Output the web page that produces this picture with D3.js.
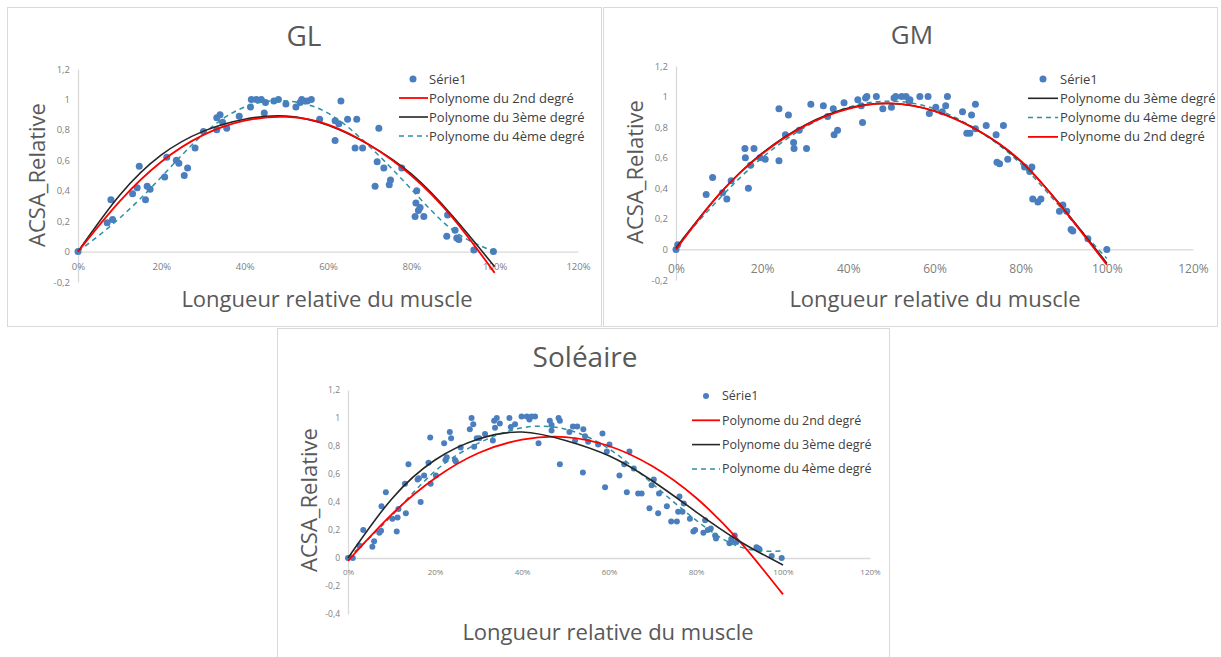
<!DOCTYPE html>
<html><head><meta charset="utf-8">
<script src="https://cdn.jsdelivr.net/npm/d3@7"></script>
<style>body{margin:0;background:#fff} svg{display:block} text{font-family:"Open Sans",sans-serif}</style>
</head><body><svg id="c" width="1221" height="657"></svg>
<script>
// ---------- data ----------
const xTicks = [0, 20, 40, 60, 80, 100, 120];
const yTicksTop = [-0.2, 0, 0.2, 0.4, 0.6, 0.8, 1, 1.2];
const yTicksSol = [-0.4, -0.2, 0, 0.2, 0.4, 0.6, 0.8, 1, 1.2];
const curveX = [0, 10, 20, 30, 40, 50, 60, 70, 80, 90, 100];

const glPoints = [[0,0],[7.0,0.19],[7.9,0.34],[8.3,0.21],[13.1,0.38],[14.2,0.42],[14.7,0.56],[16.2,0.34],[16.6,0.43],[17.3,0.41],[20.8,0.49],[21.3,0.62],[23.6,0.60],[24.2,0.58],[25.5,0.50],[26.3,0.55],[28.1,0.68],[30.1,0.79],[33.3,0.80],[33.3,0.88],[34.1,0.90],[34.7,0.85],[35.7,0.81],[38.7,0.89],[41.4,0.95],[41.6,1.0],[42.8,1.0],[44,1.0],[44.7,0.91],[45,0.98],[47,0.99],[48.1,1.0],[49.9,0.97],[52.3,0.95],[53.3,0.98],[53.7,1.0],[55,0.99],[56,1.0],[58,0.87],[61.7,0.86],[61.7,0.73],[62.6,0.84],[63.1,0.99],[64.7,0.87],[66.5,0.68],[66.9,0.87],[68.3,0.68],[71.3,0.43],[71.8,0.59],[72.2,0.81],[73.4,0.55],[74.7,0.44],[75,0.47],[77.7,0.55],[81.3,0.40],[81.1,0.32],[81.7,0.27],[82.1,0.29],[80.9,0.23],[83,0.23],[88.5,0.10],[88.7,0.24],[90.5,0.14],[90.9,0.09],[91.4,0.08],[95,0.01],[99.7,0.0]];
const glRed   = [0, 0.33, 0.59, 0.765, 0.86, 0.885, 0.835, 0.70, 0.50, 0.22, -0.14];
const glBlack = [0, 0.37, 0.635, 0.79, 0.87, 0.89, 0.83, 0.70, 0.51, 0.23, -0.10];
const glTeal  = [0, 0.22, 0.49, 0.77, 0.95, 0.99, 0.91, 0.69, 0.41, 0.14, 0.0];

const gmPoints = [[0,0],[0.4,0.03],[7,0.36],[8.5,0.47],[10.8,0.37],[11.8,0.33],[12.8,0.45],[16,0.66],[16.1,0.60],[16.8,0.40],[17.3,0.55],[18.1,0.66],[19.5,0.60],[20.7,0.59],[23.9,0.92],[23.9,0.58],[25.4,0.75],[26.1,0.88],[27.3,0.70],[27.4,0.66],[28.6,0.78],[30.3,0.66],[31.3,0.95],[34.2,0.94],[35.2,0.87],[36.5,0.92],[36.7,0.75],[37.5,0.78],[39,0.96],[42.2,0.98],[43,0.94],[43.3,0.83],[44,0.99],[44.3,1.0],[46.5,1.0],[48,0.92],[50,0.93],[50.6,0.99],[51,1.0],[52.4,1.0],[53.4,1.0],[54.1,0.97],[54.3,0.98],[56.6,1.0],[58.5,1.0],[58.8,0.89],[60.3,0.93],[61.8,0.90],[62.6,0.94],[63,1.0],[66.5,0.90],[68.6,0.88],[69.5,0.95],[67.5,0.76],[68.2,0.76],[69.5,0.79],[72,0.81],[74.3,0.75],[76,0.81],[74.5,0.57],[75.1,0.56],[77,0.59],[80.9,0.54],[82.1,0.51],[82.6,0.54],[82.8,0.33],[84,0.31],[84.7,0.33],[89,0.25],[89.8,0.29],[90.7,0.25],[91.7,0.13],[92.1,0.12],[95.6,0.07],[100,0.0]];
const gmRed   = [0, 0.36, 0.625, 0.81, 0.92, 0.955, 0.905, 0.78, 0.58, 0.26, -0.10];
const gmBlack = [0.01, 0.36, 0.63, 0.815, 0.925, 0.955, 0.905, 0.78, 0.575, 0.265, -0.09];
const gmTeal  = [0.02, 0.33, 0.60, 0.80, 0.93, 0.97, 0.92, 0.78, 0.56, 0.25, -0.06];

const solPoints = [[0,0],[1.1,0],[2.6,0.09],[3.5,0.20],[5.6,0.08],[6,0.12],[7.2,0.18],[7.6,0.195],[7.7,0.37],[8.7,0.47],[10.2,0.28],[11.2,0.19],[11.4,0.29],[11.6,0.35],[13.3,0.32],[13.1,0.53],[13.9,0.67],[16,0.56],[16.3,0.57],[16.7,0.40],[17.5,0.59],[18.5,0.68],[18.9,0.86],[19,0.53],[20.2,0.59],[22.1,0.82],[22.4,0.70],[22.7,0.72],[23.4,0.90],[23.7,0.855],[24.6,0.70],[24.8,0.69],[25.9,0.79],[28,0.92],[28.4,1.0],[28.8,0.955],[29,0.795],[29.6,0.855],[30.2,0.855],[31.5,0.885],[33.3,0.84],[33.6,0.98],[34.2,1.0],[33.8,0.93],[34.9,0.96],[37.1,1.0],[37.4,0.935],[38.4,0.955],[39.9,1.01],[41.1,1.01],[41.7,0.99],[42.2,1.01],[43,1.01],[43.8,0.82],[46.4,0.98],[46.8,0.95],[46.8,0.91],[48.4,1.0],[48.7,0.98],[48.7,0.67],[50.9,0.90],[51.7,0.94],[52.7,0.94],[54.1,0.92],[54.5,0.87],[52.2,0.84],[54,0.61],[55.2,0.83],[57.5,0.81],[58.5,0.89],[59.1,0.505],[59.5,0.76],[60.1,0.81],[62.4,0.59],[63.5,0.67],[64.1,0.47],[64.7,0.76],[65.7,0.64],[66.7,0.46],[67.5,0.46],[69.3,0.355],[69.8,0.52],[70.3,0.56],[71.3,0.32],[71.5,0.46],[73.3,0.37],[74.3,0.26],[75.6,0.26],[75.9,0.33],[76.2,0.44],[76.9,0.33],[77.2,0.39],[78.6,0.28],[79.4,0.19],[79.8,0.20],[81.7,0.18],[82.1,0.27],[82.7,0.20],[83.4,0.21],[84.4,0.16],[84.6,0.14],[87.7,0.105],[88.2,0.12],[88.9,0.16],[89.3,0.115],[88.1,0.135],[93.9,0.076],[94.3,0.07],[94.6,0.062],[97.4,0.014],[99.7,0.0]];
const solRed   = [-0.02, 0.31, 0.57, 0.75, 0.845, 0.864, 0.80, 0.655, 0.43, 0.12, -0.26];
const solBlack = [0, 0.42, 0.70, 0.85, 0.90, 0.84, 0.73, 0.55, 0.33, 0.12, -0.05];
const solTeal  = [0, 0.30, 0.62, 0.82, 0.93, 0.92, 0.78, 0.53, 0.27, 0.08, 0.05];

const lblSerie = "Série1";
const lbl2 = "Polynome du 2nd degré";
const lbl3 = "Polynome du 3ème degré";
const lbl4 = "Polynome du 4ème degré";

// ---------- styles ----------
const C = {dot:"#4a7ebf", red:"#ff0000", black:"#262626", teal:"#2f8fa3", grid:"#d9d9d9", tick:"#808080", title:"#595959", legend:"#404040"};
const STY = {
  red:{color:C.red, w:1.8, dash:null},
  black:{color:C.black, w:1.6, dash:null},
  teal:{color:C.teal, w:1.5, dash:"5,4"}
};

const panels = [
  {border:[7.5,7.5,594,319], xr:[78,578], yr:[282,69], ydom:[-0.2,1.2], yt:yTicksTop,
   title:"GL", tx:304, ty:46, tfs:28, ytx:45, yty:175, xtx:327, xty:307,
   xfs:9.5, xpad:12, yfs:9.5, r:3.5, pts:glPoints,
   curves:[["teal",glTeal],["black",glBlack],["red",glRed]],
   legend:{x0:399, x1:428, mx:413, tx:429, y:79, dy:19, fs:13, items:[["dot",lblSerie],["red",lbl2],["black",lbl3],["teal",lbl4]]}},
  {border:[603.5,7.5,614,319], xr:[676,1193], yr:[280,66], ydom:[-0.2,1.2], yt:yTicksTop,
   title:"GM", tx:912, ty:44, tfs:26, ytx:643, yty:172, xtx:935, xty:307,
   xfs:12, xpad:15, yfs:9.5, r:3.5, pts:gmPoints,
   curves:[["teal",gmTeal],["black",gmBlack],["red",gmRed]],
   legend:{x0:1028, x1:1058, mx:1043, tx:1060, y:79, dy:19.3, fs:13, items:[["dot",lblSerie],["black",lbl3],["teal",lbl4],["red",lbl2]]}},
  {border:[277.5,328.5,612,340], xr:[348,870], yr:[614,390], ydom:[-0.4,1.2], yt:yTicksSol,
   title:"Soléaire", tx:585, ty:367, tfs:28, ytx:317, yty:500, xtx:608, xty:640,
   xfs:8, xpad:11, yfs:8.5, r:3, pts:solPoints,
   curves:[["teal",solTeal],["red",solRed],["black",solBlack]],
   legend:{x0:692, x1:720, mx:706, tx:722, y:396, dy:24.3, fs:12.5, items:[["dot",lblSerie],["red",lbl2],["black",lbl3],["teal",lbl4]]}}
];

const svg = d3.select("#c");
const fmtY = d => String(d).replace(".", ",");

panels.forEach(p => {
  const g = svg.append("g");
  const [bx, by, bw, bh] = p.border;
  g.append("rect").attr("x", bx).attr("y", by).attr("width", bw).attr("height", bh)
    .attr("fill", "#fff").attr("stroke", C.grid).attr("stroke-width", 1);

  const xs = d3.scaleLinear().domain([0, 120]).range(p.xr);
  const ys = d3.scaleLinear().domain(p.ydom).range(p.yr);

  // y axis
  const ya = g.append("g").attr("transform", `translate(${xs(0)},0)`)
    .call(d3.axisLeft(ys).tickValues(p.yt).tickSize(0).tickSizeOuter(0).tickPadding(8).tickFormat(fmtY));
  ya.select(".domain").attr("stroke", C.grid).attr("stroke-width", 1.3);
  ya.selectAll("text").attr("fill", C.tick).attr("font-size", p.yfs).attr("font-family", "Open Sans");

  // x axis at y=0
  const xa = g.append("g").attr("transform", `translate(0,${ys(0)})`)
    .call(d3.axisBottom(xs).tickValues(xTicks).tickSize(0).tickSizeOuter(0).tickPadding(p.xpad).tickFormat(d => d + "%"));
  xa.select(".domain").attr("stroke", C.grid).attr("stroke-width", 1.3);
  xa.selectAll("text").attr("fill", C.tick).attr("font-size", p.xfs).attr("font-family", "Open Sans");

  // points
  g.append("g").selectAll("circle").data(p.pts).join("circle")
    .attr("cx", d => xs(d[0])).attr("cy", d => ys(d[1])).attr("r", p.r).attr("fill", C.dot);

  // trend curves
  const line = d3.line().x(d => xs(d[0])).y(d => ys(d[1])).curve(d3.curveNatural);
  p.curves.forEach(([k, vals]) => {
    const s = STY[k];
    g.append("path").datum(curveX.map((x, i) => [x, vals[i]])).attr("d", line)
      .attr("fill", "none").attr("stroke", s.color).attr("stroke-width", s.w)
      .attr("stroke-dasharray", s.dash);
  });

  // titles
  g.append("text").attr("x", p.tx).attr("y", p.ty).attr("text-anchor", "middle")
    .attr("font-size", p.tfs).attr("fill", C.title).text(p.title);
  g.append("text").attr("transform", `translate(${p.ytx},${p.yty}) rotate(-90)`).attr("text-anchor", "middle")
    .attr("font-size", 22).attr("fill", C.title).text("ACSA_Relative");
  g.append("text").attr("x", p.xtx).attr("y", p.xty).attr("text-anchor", "middle")
    .attr("font-size", 22).attr("fill", C.title).text("Longueur relative du muscle");

  // legend
  const L = p.legend;
  L.items.forEach(([k, label], i) => {
    const yy = L.y + i * L.dy;
    if (k === "dot") {
      g.append("circle").attr("cx", L.mx).attr("cy", yy).attr("r", p.r).attr("fill", C.dot);
    } else {
      const s = STY[k];
      g.append("line").attr("x1", L.x0).attr("x2", L.x1).attr("y1", yy).attr("y2", yy)
        .attr("stroke", s.color).attr("stroke-width", s.w).attr("stroke-dasharray", s.dash);
    }
    g.append("text").attr("x", L.tx).attr("y", yy).attr("dy", "0.35em")
      .attr("font-size", L.fs).attr("fill", C.legend).text(label);
  });
});
</script></body></html>
